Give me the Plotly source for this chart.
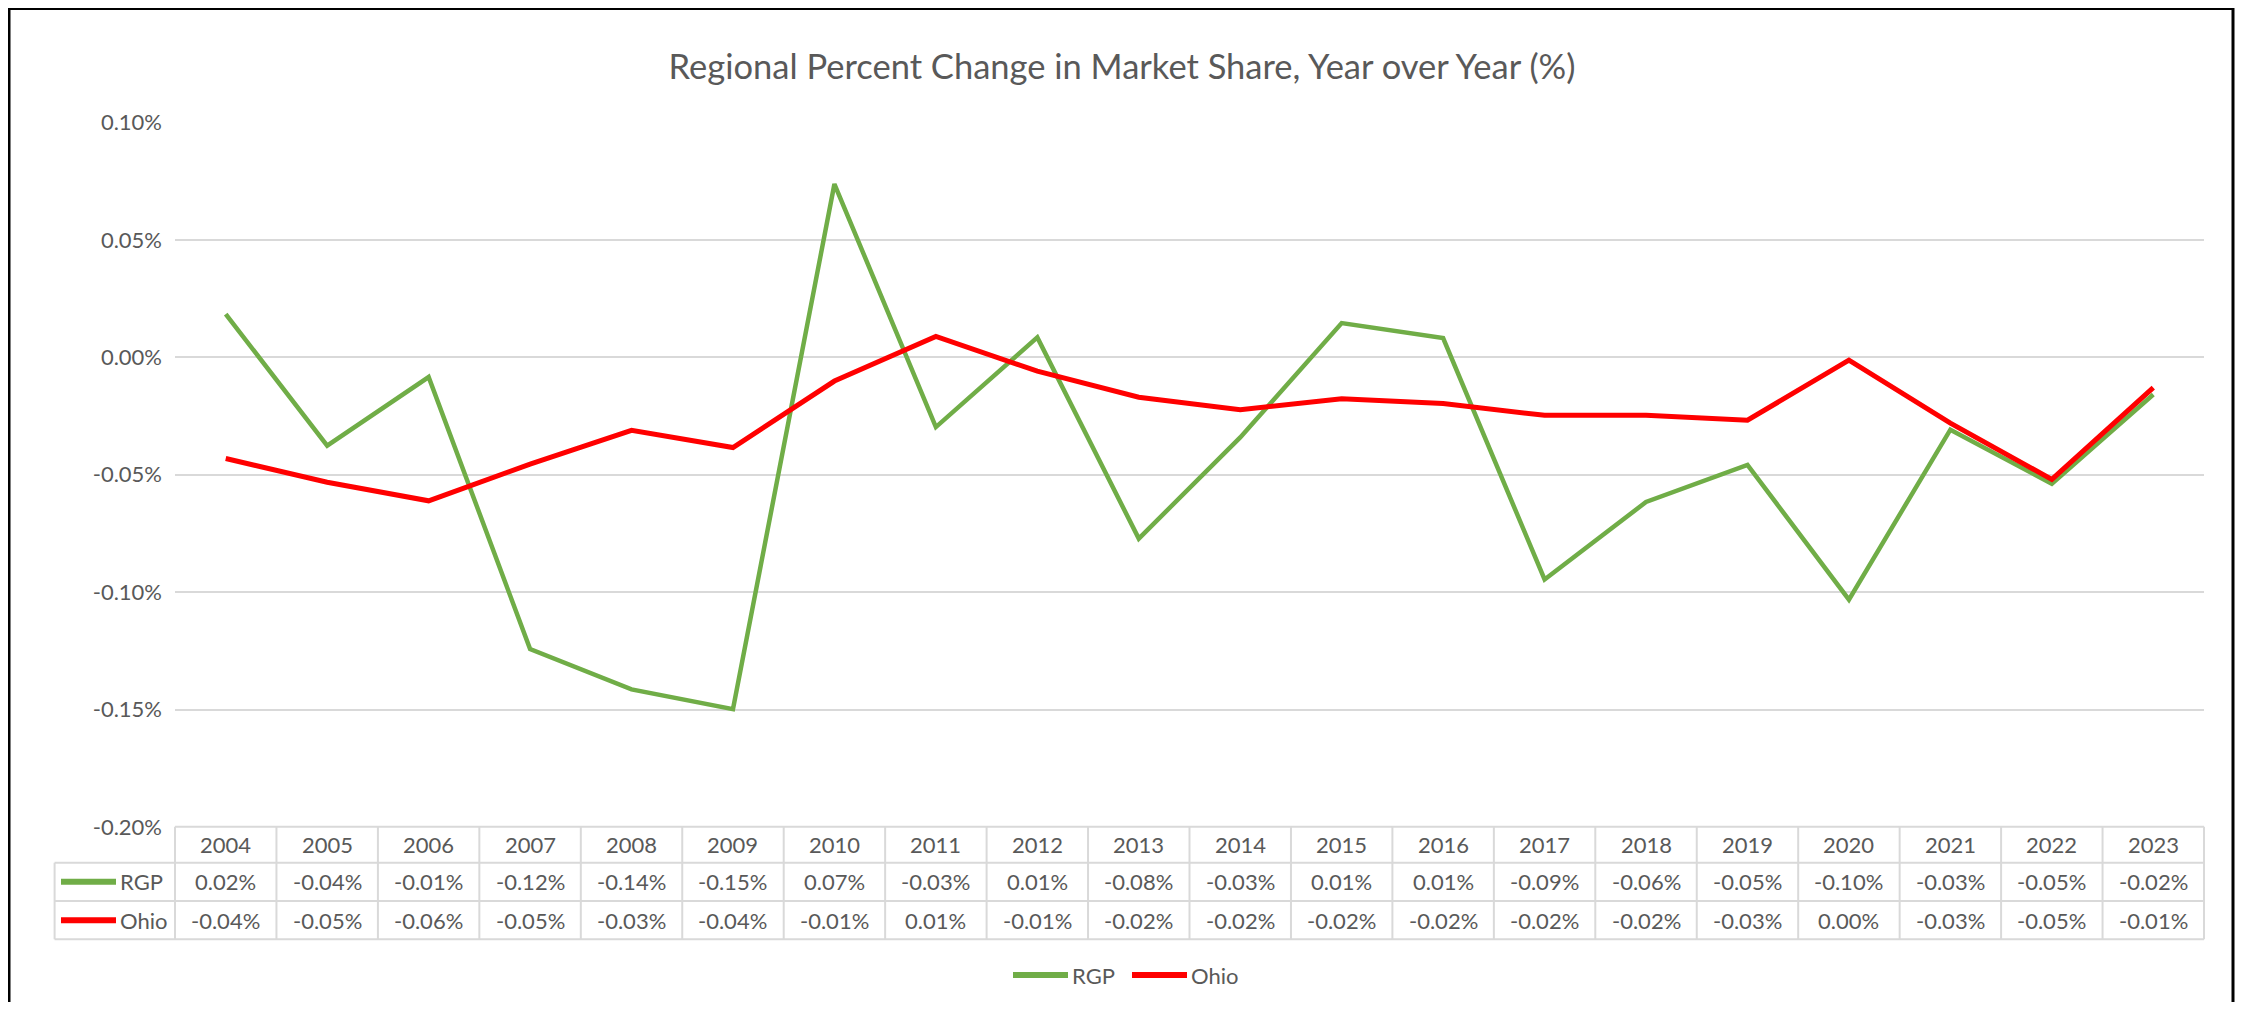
import plotly.graph_objects as go

# the page body adds an 8px margin, so the figure is drawn 8px smaller on each side
PAGE_W, PAGE_H = 2244, 1010
OFFSET = 8
W, H = PAGE_W - 2 * OFFSET, PAGE_H - 2 * OFFSET

YEARS = [str(y) for y in range(2004, 2024)]
# percent change in market share, in percent units
RGP = [0.0184, -0.0376, -0.0084, -0.1242, -0.1414, -0.1498, 0.0738, -0.0297, 0.0085, -0.0772,
       -0.0341, 0.0146, 0.0082, -0.0946, -0.0616, -0.0458, -0.1032, -0.0308, -0.0538, -0.0158]
OHIO = [-0.0431, -0.0532, -0.0611, -0.0455, -0.0311, -0.0384, -0.0101, 0.0089, -0.0059, -0.0170,
        -0.0223, -0.0176, -0.0197, -0.0247, -0.0247, -0.0268, -0.0012, -0.0280, -0.0520, -0.0129]
Y_TICKS = [0.10, 0.05, 0.0, -0.05, -0.10, -0.15, -0.20]
SERIES = [("RGP", RGP, "#70AD47", 4.5), ("Ohio", OHIO, "#FF0000", 5)]

TITLE = "Regional Percent Change in Market Share, Year over Year (%)"
FONT = "Lato"
TEXT_COLOR = "#595959"
GRID_COLOR = "#d9d9d9"

# pixel layout, in page pixels
PLOT_L, PLOT_R = 175, 2204
PLOT_T, PLOT_B = 122.5, 827
KEY_L = 54.6
ROWS = [826.7, 862.7, 901.0, 939.3]


def px(x):
    return (x - OFFSET) / W


def py(y):
    return 1 - (y - OFFSET) / H


def fmt(v):
    return f"{round(v, 2) + 0.0:.2f}%"


fig = go.Figure()
for name, values, color, width in SERIES:
    fig.add_trace(go.Scatter(x=YEARS, y=values, name=name, mode="lines",
                             line=dict(color=color, width=width)))

shapes = []
annotations = []
line_style = dict(color=GRID_COLOR, width=2)

# data table grid
shapes.append(dict(type="line", xref="paper", yref="paper", x0=px(PLOT_L), x1=px(PLOT_R),
                   y0=py(ROWS[0]), y1=py(ROWS[0]), line=line_style))
for y in ROWS[1:]:
    shapes.append(dict(type="line", xref="paper", yref="paper", x0=px(KEY_L), x1=px(PLOT_R),
                       y0=py(y), y1=py(y), line=line_style))
shapes.append(dict(type="line", xref="paper", yref="paper", x0=px(KEY_L), x1=px(KEY_L),
                   y0=py(ROWS[1]), y1=py(ROWS[3]), line=line_style))
col_w = (PLOT_R - PLOT_L) / len(YEARS)
for i in range(len(YEARS) + 1):
    x = PLOT_L + i * col_w
    shapes.append(dict(type="line", xref="paper", yref="paper", x0=px(x), x1=px(x),
                       y0=py(ROWS[0]), y1=py(ROWS[3]), line=line_style))

cell_font = dict(family=FONT, size=22, color=TEXT_COLOR)
header_y = (ROWS[0] + ROWS[1]) / 2
for i, year in enumerate(YEARS):
    annotations.append(dict(x=i, xref="x", y=py(header_y), yref="paper", text=year,
                            yanchor="middle", showarrow=False, font=cell_font))
for r, (name, values, color, width) in enumerate(SERIES):
    row_y = (ROWS[r + 1] + ROWS[r + 2]) / 2
    for i, v in enumerate(values):
        annotations.append(dict(x=i, xref="x", y=py(row_y), yref="paper", text=fmt(v),
                                yanchor="middle", showarrow=False, font=cell_font))
    # legend key inside the table
    shapes.append(dict(type="line", xref="paper", yref="paper", x0=px(61), x1=px(116),
                       y0=py(row_y), y1=py(row_y), line=dict(color=color, width=6)))
    annotations.append(dict(x=px(118), xref="paper", y=py(row_y), yref="paper", text=name,
                            xanchor="left", yanchor="middle", showarrow=False, font=cell_font))

# bottom legend
legend_y = 975
for (name, values, color, width), x0 in zip(SERIES, [1013, 1132]):
    shapes.append(dict(type="line", xref="paper", yref="paper", x0=px(x0), x1=px(x0 + 55),
                       y0=py(legend_y), y1=py(legend_y), line=dict(color=color, width=6)))
    annotations.append(dict(x=px(x0 + 57), xref="paper", y=py(legend_y), yref="paper", text=name,
                            xanchor="left", yanchor="middle", showarrow=False, font=cell_font))

# chart border
shapes.append(dict(type="rect", xref="paper", yref="paper", x0=px(9), x1=px(2233),
                   y0=py(8.5), y1=py(1030), line=dict(color="black", width=3)))

fig.update_layout(
    width=W,
    height=H,
    margin=dict(l=0, r=0, t=0, b=0, autoexpand=False),
    paper_bgcolor="white",
    plot_bgcolor="white",
    showlegend=False,
    font=dict(family=FONT, color=TEXT_COLOR),
    title=dict(text=TITLE, x=px(1122), xanchor="center", y=py(67), yanchor="middle",
               automargin=False, font=dict(family=FONT, size=34.5, color=TEXT_COLOR)),
    shapes=shapes,
    annotations=annotations,
)
fig.update_xaxes(domain=[px(PLOT_L), px(PLOT_R)], range=[-0.5, len(YEARS) - 0.5],
                 showticklabels=False, showgrid=False, zeroline=False, showline=False,
                 automargin=False)
fig.update_yaxes(domain=[py(PLOT_B), py(PLOT_T)], range=[-0.2, 0.1],
                 tickvals=Y_TICKS, ticktext=[fmt(v) for v in Y_TICKS],
                 gridcolor=GRID_COLOR, gridwidth=2, zeroline=False, showline=False,
                 ticklabelstandoff=12, automargin=False,
                 tickfont=dict(family=FONT, size=22, color=TEXT_COLOR))

fig.write_html("out.html")
